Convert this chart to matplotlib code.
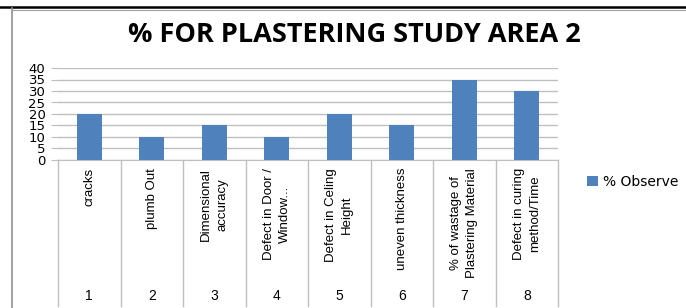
import matplotlib
matplotlib.use("Agg")
import matplotlib.pyplot as plt
from matplotlib.lines import Line2D
import matplotlib.transforms as mtransforms

categories = ["cracks", "plumb Out", "Dimensional\naccuracy", "Defect in Door /\nWindow...",
              "Defect in Celing\nHeight", "uneven thickness", "% of wastage of\nPlastering Material",
              "Defect in curing\nmethod/Time"]
numbers = ["1", "2", "3", "4", "5", "6", "7", "8"]
values = [20, 10, 15, 10, 20, 15, 35, 30]
yticks = [0, 5, 10, 15, 20, 25, 30, 35, 40]
series_name = "% Observe"
title = "% FOR PLASTERING STUDY AREA 2"

W, H = 686, 308
fig = plt.figure(figsize=(W / 100, H / 100), dpi=100)

def px(x0, y0, x1, y1):
    return [x0 / W, 1 - y1 / H, (x1 - x0) / W, (y1 - y0) / H]

ax = fig.add_axes(px(58, 68, 558, 160))
xs = list(range(len(values)))
bars = ax.bar(xs, values, width=0.4, color="#4F81BD", label=series_name, zorder=3)
ax.set_xlim(-0.5, len(values) - 0.5)
ax.set_ylim(0, 40)
ax.set_yticks(yticks)
ax.set_yticklabels([str(v) for v in yticks], fontsize=9.5, family="DejaVu Sans")
ax.yaxis.grid(True, color="#BFBFBF", lw=1)
ax.set_axisbelow(True)
ax.tick_params(axis="y", length=5, color="#BFBFBF", pad=4, direction="out")
ax.set_xticks([])
for s in ["top", "right", "left"]:
    ax.spines[s].set_visible(False)
ax.spines["bottom"].set_color("#BFBFBF")

trans = mtransforms.blended_transform_factory(ax.transData, ax.transAxes)
label_top = (160 - 168) / 92
num_y = (160 - 296) / 92
sep_bot = (160 - 306) / 92
cat_font = ["Liberation Sans", "DejaVu Sans"]
for i, (lab, num) in enumerate(zip(categories, numbers)):
    ax.text(i, label_top, lab, rotation=90, ha="center", va="top", multialignment="center",
            transform=trans, fontsize=9.5, family=cat_font, linespacing=1.45)
    ax.text(i, num_y, num, ha="center", va="center", transform=trans, fontsize=10,
            family=cat_font)
for k in range(len(values) + 1):
    ax.add_line(Line2D([k - 0.5, k - 0.5], [0, sep_bot], transform=trans, color="#BFBFBF",
                       lw=1, clip_on=False))

fig.text(354 / W, 1 - 35 / H, title, ha="center", va="center", fontsize=19.5,
         fontweight="bold", family="Open Sans")

leg = ax.legend(loc="center left", bbox_to_anchor=(587 / W, 1 - 182 / H),
                bbox_transform=fig.transFigure, frameon=False,
                handlelength=0.8, handleheight=0.7, handletextpad=0.35, borderaxespad=0,
                borderpad=0, prop={"family": "DejaVu Sans", "size": 10})

# page lines / chart border
fig.add_artist(Line2D([0, 1], [1 - 7 / H, 1 - 7 / H], transform=fig.transFigure, color="black", lw=1.8))
fig.add_artist(Line2D([12 / W, 1], [1 - 9.5 / H, 1 - 9.5 / H], transform=fig.transFigure, color="#A0A0A0", lw=0.8))
fig.add_artist(Line2D([12 / W, 12 / W], [0, 1 - 8 / H], transform=fig.transFigure, color="#909090", lw=1.2))

fig.savefig("out.png", dpi=100)
